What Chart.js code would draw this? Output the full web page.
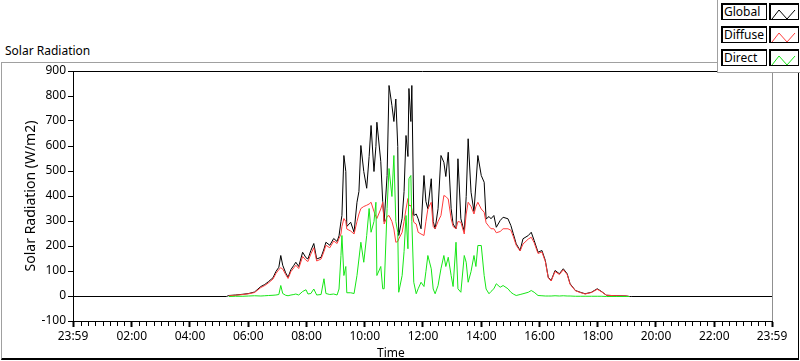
<!DOCTYPE html>
<html>
<head>
<meta charset="utf-8">
<script src="https://cdn.jsdelivr.net/npm/chart.js@4.4.1/dist/chart.umd.min.js"></script>
<style>
  html, body { margin: 0; padding: 0; background: #fff; }
  #wrap { position: relative; width: 800px; height: 361px; overflow: hidden; font-family: "Noto Sans", sans-serif; }
  #panel { position: absolute; left: 1px; top: 62px; width: 796px; height: 295px;
           border-top: 1px solid #a0a0a0; border-left: 1px solid #a0a0a0;
           border-right: 1px solid #000; border-bottom: 2px solid #000; }
  #title { position: absolute; left: 5px; top: 42px; font-size: 12px; color: #000; }
  #xtitle { position: absolute; left: 377px; top: 344px; font-size: 12px; color: #000; }
  #chart { position: absolute; left: 0; top: 0; }
  #legend { position: absolute; left: 717px; top: 0; width: 83px; height: 72px; background: #fff;
            border-left: 1px solid #a0a0a0; border-bottom: 1px solid #a0a0a0; z-index: 2; }
  .row { position: absolute; left: 3px; height: 17px; }
  .lbl { position: absolute; left: 0; top: 0; width: 42px; height: 15px; border: 1px solid #000;
         box-shadow: inset 1px 1px 0 #000; font-size: 12px; line-height: 15px; padding-left: 2px; box-sizing: content-box; }
  .sw { position: absolute; left: 48px; top: 0; width: 28px; height: 15px; border: 1px solid #000;
        box-shadow: inset 1px 1px 0 #000; }
</style>
</head>
<body>
<div id="wrap">
  <div id="panel"></div>
  <div id="title">Solar Radiation</div>
  <canvas id="chart" width="800" height="361"></canvas>
  <div id="xtitle">Time</div>
  <div id="legend"></div>
</div>
<script>
// x tick labels (the first 23:59 is the previous evening)
const timeTicks = ['23:59', '02:00', '04:00', '06:00', '08:00', '10:00', '12:00',
                   '14:00', '16:00', '18:00', '20:00', '22:00', '23:59']

const seriesNames = ['Global', 'Diffuse', 'Direct']
const seriesColors = ['#000000', '#ff3c3c', '#16e616']

const times = [
  '00:00', '05:14', '05:19', '05:33', '05:48', '06:00', '06:12', '06:25', '06:33', '06:41',
  '06:50', '06:56', '07:02', '07:06', '07:10', '07:16', '07:21', '07:27', '07:33', '07:37',
  '07:43', '07:51', '07:58', '08:02', '08:08', '08:14', '08:20', '08:29', '08:35', '08:39',
  '08:47', '08:55', '09:02', '09:06', '09:10', '09:12', '09:16', '09:20', '09:22', '09:30',
  '09:37', '09:43', '09:47', '09:51', '09:57', '10:03', '10:08', '10:12', '10:18', '10:22',
  '10:24', '10:32', '10:36', '10:39', '10:45', '10:49', '10:55', '10:59', '11:03', '11:07',
  '11:09', '11:16', '11:20', '11:24', '11:28', '11:30', '11:34', '11:36', '11:40', '11:45',
  '11:49', '11:55', '12:01', '12:05', '12:09', '12:16', '12:20', '12:24', '12:30', '12:36',
  '12:42', '12:46', '12:51', '12:57', '13:01', '13:07', '13:11', '13:17', '13:24', '13:28',
  '13:32', '13:38', '13:44', '13:48', '13:52', '13:59', '14:05', '14:09', '14:15', '14:19',
  '14:25', '14:30', '14:38', '14:44', '14:54', '15:00', '15:05', '15:11', '15:19', '15:25',
  '15:36', '15:42', '15:48', '15:56', '16:04', '16:11', '16:17', '16:23', '16:31', '16:40',
  '16:48', '16:56', '17:02', '17:13', '17:23', '17:33', '17:46', '17:58', '18:06', '18:17',
  '18:37', '18:58', '19:04', '19:08', '23:59'
]

const globalW = [
  0, 0, 4, 6, 9, 12, 18, 40, 48, 60,
  75, 100, 117, 164, 125, 95, 77, 108, 125, 137,
  120, 177, 155, 150, 184, 212, 150, 157, 190, 217,
  205, 232, 220, 243, 300, 324, 564, 500, 280, 297,
  257, 377, 420, 604, 500, 433, 560, 684, 500, 600,
  697, 540, 380, 300, 484, 844, 764, 700, 790, 600,
  244, 313, 420, 644, 560, 832, 700, 844, 324, 330,
  311, 271, 484, 380, 351, 471, 300, 271, 351, 564,
  537, 480, 577, 351, 290, 271, 551, 311, 260, 400,
  631, 417, 340, 450, 564, 484, 457, 310, 320, 311,
  324, 277, 304, 317, 311, 284, 251, 211, 184, 231,
  244, 257, 224, 177, 184, 144, 77, 64, 104, 91,
  111, 91, 51, 24, 17, 11, 17, 31, 21, 5,
  3, 2, 0, 0, 0
]

const diffuseW = [
  null, null, 3, 5, 8, 11, 16, 36, 44, 55,
  70, 92, 108, 115, 110, 88, 72, 100, 115, 125,
  112, 160, 145, 140, 170, 195, 142, 150, 180, 205,
  195, 222, 212, 232, 250, 280, 312, 300, 270, 262,
  250, 300, 330, 352, 360, 365, 370, 377, 340, 320,
  312, 350, 377, 290, 320, 324, 300, 270, 217, 220,
  230, 257, 300, 350, 392, 364, 364, 350, 297, 290,
  257, 250, 244, 300, 350, 377, 280, 271, 300, 324,
  404, 400, 390, 311, 280, 271, 300, 297, 250, 330,
  377, 360, 330, 360, 377, 350, 337, 295, 280, 271,
  271, 255, 260, 271, 271, 265, 240, 205, 182, 210,
  230, 237, 215, 172, 178, 140, 75, 62, 100, 88,
  107, 88, 49, 23, 16, 10, 16, 29, 20, 5,
  3, 2, 0, null, null
]

const directW = [
  null, null, 0, 1, 1, 2, 3, 2, 3, 4,
  5, 6, 8, 44, 12, 5, 3, 6, 8, 10,
  6, 20, 27, 10, 12, 30, 6, 8, 71, 12,
  8, 10, 6, 30, 164, 244, 84, 120, 15, 15,
  12, 84, 150, 217, 137, 244, 352, 257, 300, 377,
  84, 120, 31, 31, 352, 512, 400, 564, 300, 257,
  17, 84, 180, 324, 191, 471, 484, 300, 57, 11,
  31, 57, 40, 100, 164, 111, 30, 11, 44, 111,
  164, 120, 157, 84, 40, 217, 31, 17, 164, 137,
  57, 100, 164, 120, 204, 204, 84, 30, 11, 20,
  31, 51, 37, 44, 31, 17, 10, 4, 8, 11,
  17, 24, 17, 4, 3, 2, 2, 2, 3, 2,
  3, 2, 2, 1, 1, 1, 1, 1, 1, 0,
  0, 0, 0, null, null
]

const toMin = (s) => { const p = s.split(':'); return +p[0] * 60 + +p[1] }
const tickMinutes = timeTicks.map((t, i) => i === 0 ? -1 : toMin(t))
const xMin = tickMinutes[0], xMax = tickMinutes[tickMinutes.length - 1]

const toPoints = (vals) => times.map((t, i) => ({ x: toMin(t), y: vals[i] }))
const allSeries = [globalW, diffuseW, directW]

// legend in the LabVIEW style
const legend = document.getElementById('legend')
seriesNames.forEach((name, i) => {
  const row = document.createElement('div')
  row.className = 'row'
  row.style.top = (3 + i * 23) + 'px'
  row.innerHTML = `<div class="lbl">${name}</div>` +
    `<div class="sw"><svg width="28" height="15"><polyline points="2,13 9,4 17,13 25,4" fill="none" stroke="${seriesColors[i]}" stroke-width="1"/></svg></div>`
  legend.appendChild(row)
})

// shift plot lines half a pixel so flat parts land on whole pixels
const crispLines = {
  id: 'crispLines',
  beforeDatasetsDraw(chart) { chart.ctx.save(); chart.ctx.translate(0.5, 0.5) },
  afterDatasetsDraw(chart) { chart.ctx.restore() }
}

const frameTicks = {
  id: 'frameTicks',
  afterDraw(chart) {
    const { ctx, chartArea: a, scales } = chart
    ctx.save()
    ctx.lineWidth = 1
    ctx.strokeStyle = '#000'
    ctx.beginPath()
    ctx.moveTo(a.left, a.top + 0.5)
    ctx.lineTo(a.right, a.top + 0.5)
    ctx.stroke()
    ctx.strokeStyle = '#909090'
    ctx.beginPath()
    ctx.moveTo(a.right + 0.5, a.top)
    ctx.lineTo(a.right + 0.5, a.bottom)
    ctx.stroke()
    // minor ticks every 15 minutes
    ctx.strokeStyle = '#000'
    ctx.beginPath()
    for (let m = 15; m < xMax; m += 15) {
      if (m % 120 === 0) continue
      const px = Math.round(scales.x.getPixelForValue(m)) + 0.5
      ctx.moveTo(px, a.bottom + 1)
      ctx.lineTo(px, a.bottom + 5)
    }
    ctx.stroke()
    ctx.restore()
  }
}

const fontSpec = { family: 'Noto Sans', size: 12 }

new Chart(document.getElementById('chart').getContext('2d'), {
  type: 'line',
  data: {
    datasets: seriesNames.map((name, i) => ({
      label: name,
      data: toPoints(allSeries[i]),
      borderColor: seriesColors[i],
      borderWidth: 1,
      pointRadius: 0,
      tension: 0,
      spanGaps: false,
      order: 3 - i
    }))
  },
  options: {
    responsive: false,
    animation: false,
    parsing: false,
    layout: { padding: { top: 71, right: 28, left: 0, bottom: 0 } },
    plugins: { legend: { display: false }, tooltip: { enabled: false } },
    scales: {
      x: {
        type: 'linear',
        min: xMin,
        max: xMax,
        afterBuildTicks: (scale) => { scale.ticks = tickMinutes.map(v => ({ value: v })) },
        afterFit: (scale) => { scale.height = 40 },
        ticks: {
          autoSkip: false,
          maxRotation: 0,
          color: '#000',
          font: fontSpec,
          padding: 2,
          callback: (v) => timeTicks[tickMinutes.indexOf(v)]
        },
        grid: { drawOnChartArea: false, tickLength: 6, tickWidth: 2, tickColor: '#000' },
        border: { color: '#000', width: 1 },
        title: { display: false }
      },
      y: {
        min: -100,
        max: 900,
        afterFit: (scale) => { scale.width = 73 },
        ticks: { stepSize: 100, color: '#000', font: fontSpec, padding: 2 },
        grid: { drawOnChartArea: false, tickLength: 5, tickColor: '#000' },
        border: { color: '#000', width: 1 },
        title: { display: true, text: 'Solar Radiation (W/m2)', color: '#000',
                 font: { family: 'Noto Sans', size: 14 }, padding: { top: 23, bottom: 0 } }
      }
    }
  },
  plugins: [crispLines, frameTicks]
})
</script>
</body>
</html>
